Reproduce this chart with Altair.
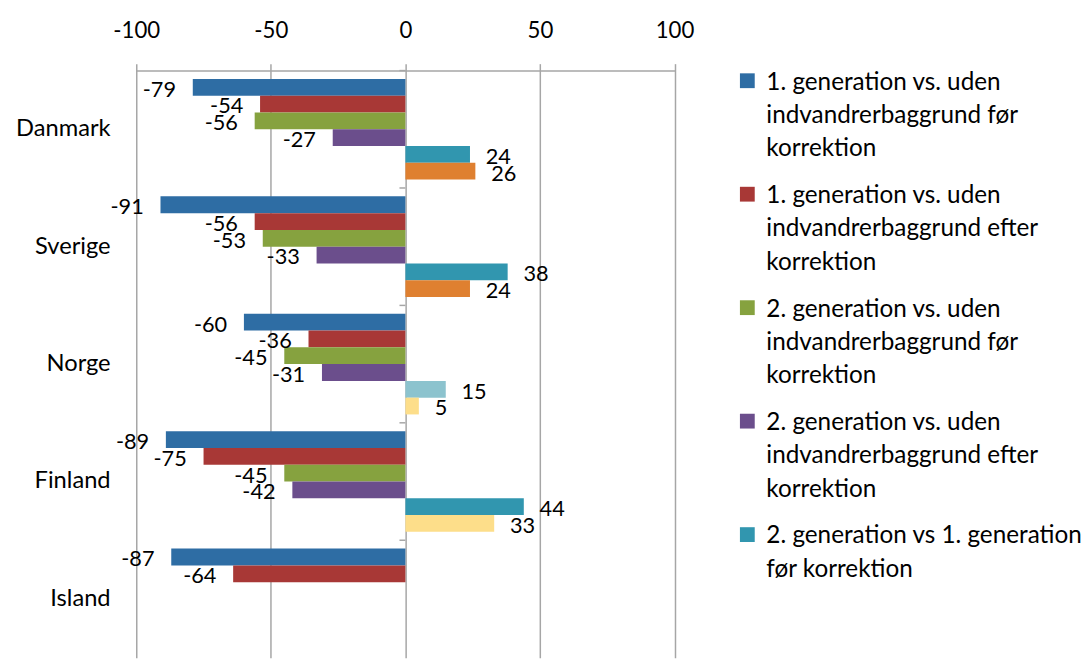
import altair as alt
import pandas as pd

countries = ["Danmark", "Sverige", "Norge", "Finland", "Island"]
series = [
    "1. generation vs. uden|indvandrerbaggrund før|korrektion",
    "1. generation vs. uden|indvandrerbaggrund efter|korrektion",
    "2. generation vs. uden|indvandrerbaggrund før|korrektion",
    "2. generation vs. uden|indvandrerbaggrund efter|korrektion",
    "2. generation vs 1. generation|før korrektion",
    "2. generation vs 1. generation|efter korrektion",
]
s1 = [-79, -91, -60, -89, -87]
s2 = [-54, -56, -36, -75, -64]
s3 = [-56, -53, -45, -45, None]
s4 = [-27, -33, -31, -42, None]
s5 = [24, 38, 15, 44, None]
s6 = [26, 24, 5, 33, None]
# lighter shade (not significant)
light5 = [False, False, True, False, False]
light6 = [False, False, True, True, False]
no_light = [False] * 5
x_ticks = [-100, -50, 0, 50, 100]

colors = ["#2E6DA4", "#A83836", "#86A23F", "#6B4E8C", "#3196AF", "#DF8030",
          "#8CC3CE", "#FDDE8A"]

all_vals = [s1, s2, s3, s4, s5, s6]
all_light = [no_light, no_light, no_light, no_light, light5, light6]
rows = []
for name, vals, lights in zip(series, all_vals, all_light):
    for c, v, l in zip(countries, vals, lights):
        if v is None:
            continue
        rows.append({"country": c, "series": name,
                     "key": name + (" (lys)" if l else ""), "value": v})
df = pd.DataFrame(rows)
ticks_df = pd.DataFrame({"country": countries})

FONT = "Lato"
GRID = "#A6A6A6"

color_domain = series + [series[4] + " (lys)", series[5] + " (lys)"]

# the plot is cut at the bottom (as in the reference): bands keep a 119 px step
y_enc = alt.Y("country:N", sort=countries,
              scale=alt.Scale(paddingInner=0, paddingOuter=0, range=[0, 595]),
              axis=alt.Axis(title=None, domain=False, ticks=False, grid=False,
                            labelPadding=26.5, labelFontSize=24, labelFont=FONT,
                            labelColor="black"))
yoff = alt.YOffset("series:N", sort=series,
                   scale=alt.Scale(paddingInner=0, paddingOuter=0.5))
x_enc = alt.X("value:Q", scale=alt.Scale(domain=[-100, 100], nice=False),
              axis=alt.Axis(orient="top", values=x_ticks,
                            labelExpr="toString(datum.value)", labelFlush=False,
                            title=None, grid=True, gridColor=GRID, gridWidth=1.5,
                            domainColor=GRID, domainWidth=1.5, tickColor=GRID,
                            tickWidth=1.5, tickSize=7, labelPadding=21.5,
                            labelFontSize=22.5, labelFont=FONT, labelColor="black"))
color = alt.Color("key:N", scale=alt.Scale(domain=color_domain, range=colors),
                  legend=alt.Legend(values=series[:5], orient="none",
                                    legendX=607, legendY=7, title=None,
                                    symbolType="M-1,-2.2H1V-0.2H-1Z", symbolSize=225,
                                    symbolStrokeWidth=0,
                                    labelExpr="split(datum.label, '|')",
                                    labelFontSize=24.6, labelFont=FONT,
                                    labelColor="black", labelLimit=0,
                                    rowPadding=22, labelOffset=7, padding=0,
                                    labelBaseline="alphabetic"))

bars = alt.Chart(df).mark_bar().encode(x=x_enc, y=y_enc, yOffset=yoff, color=color)

base_txt = alt.Chart(df).transform_calculate(label="toString(datum.value)")
neg = base_txt.transform_filter("datum.value < 0").mark_text(
    align="right", dx=-17, dy=2.5, fontSize=22, font=FONT, color="black"
).encode(x="value:Q", y=alt.Y("country:N", sort=countries),
         yOffset=alt.YOffset("series:N", sort=series), text="label:N")
pos = base_txt.transform_filter("datum.value > 0").mark_text(
    align="left", dx=16, dy=2.5, fontSize=22, font=FONT, color="black"
).encode(x="value:Q", y=alt.Y("country:N", sort=countries),
         yOffset=alt.YOffset("series:N", sort=series), text="label:N")

zt = alt.Chart(ticks_df).mark_rule(color=GRID, strokeWidth=1.5).encode(
    y=alt.Y("country:N", sort=countries, bandPosition=0),
    x=alt.datum(-2.2), x2=alt.datum(0))

chart = alt.layer(bars, zt, neg, pos).properties(
    width=545.5, height=578,
    padding={"left": 7, "top": 7, "right": 0, "bottom": 0}
).configure(style={"guide-label": {"lineHeight": 33.7}}).configure_view(stroke=None)

chart.save("out.html", embed_options={"renderer": "svg", "actions": False})
